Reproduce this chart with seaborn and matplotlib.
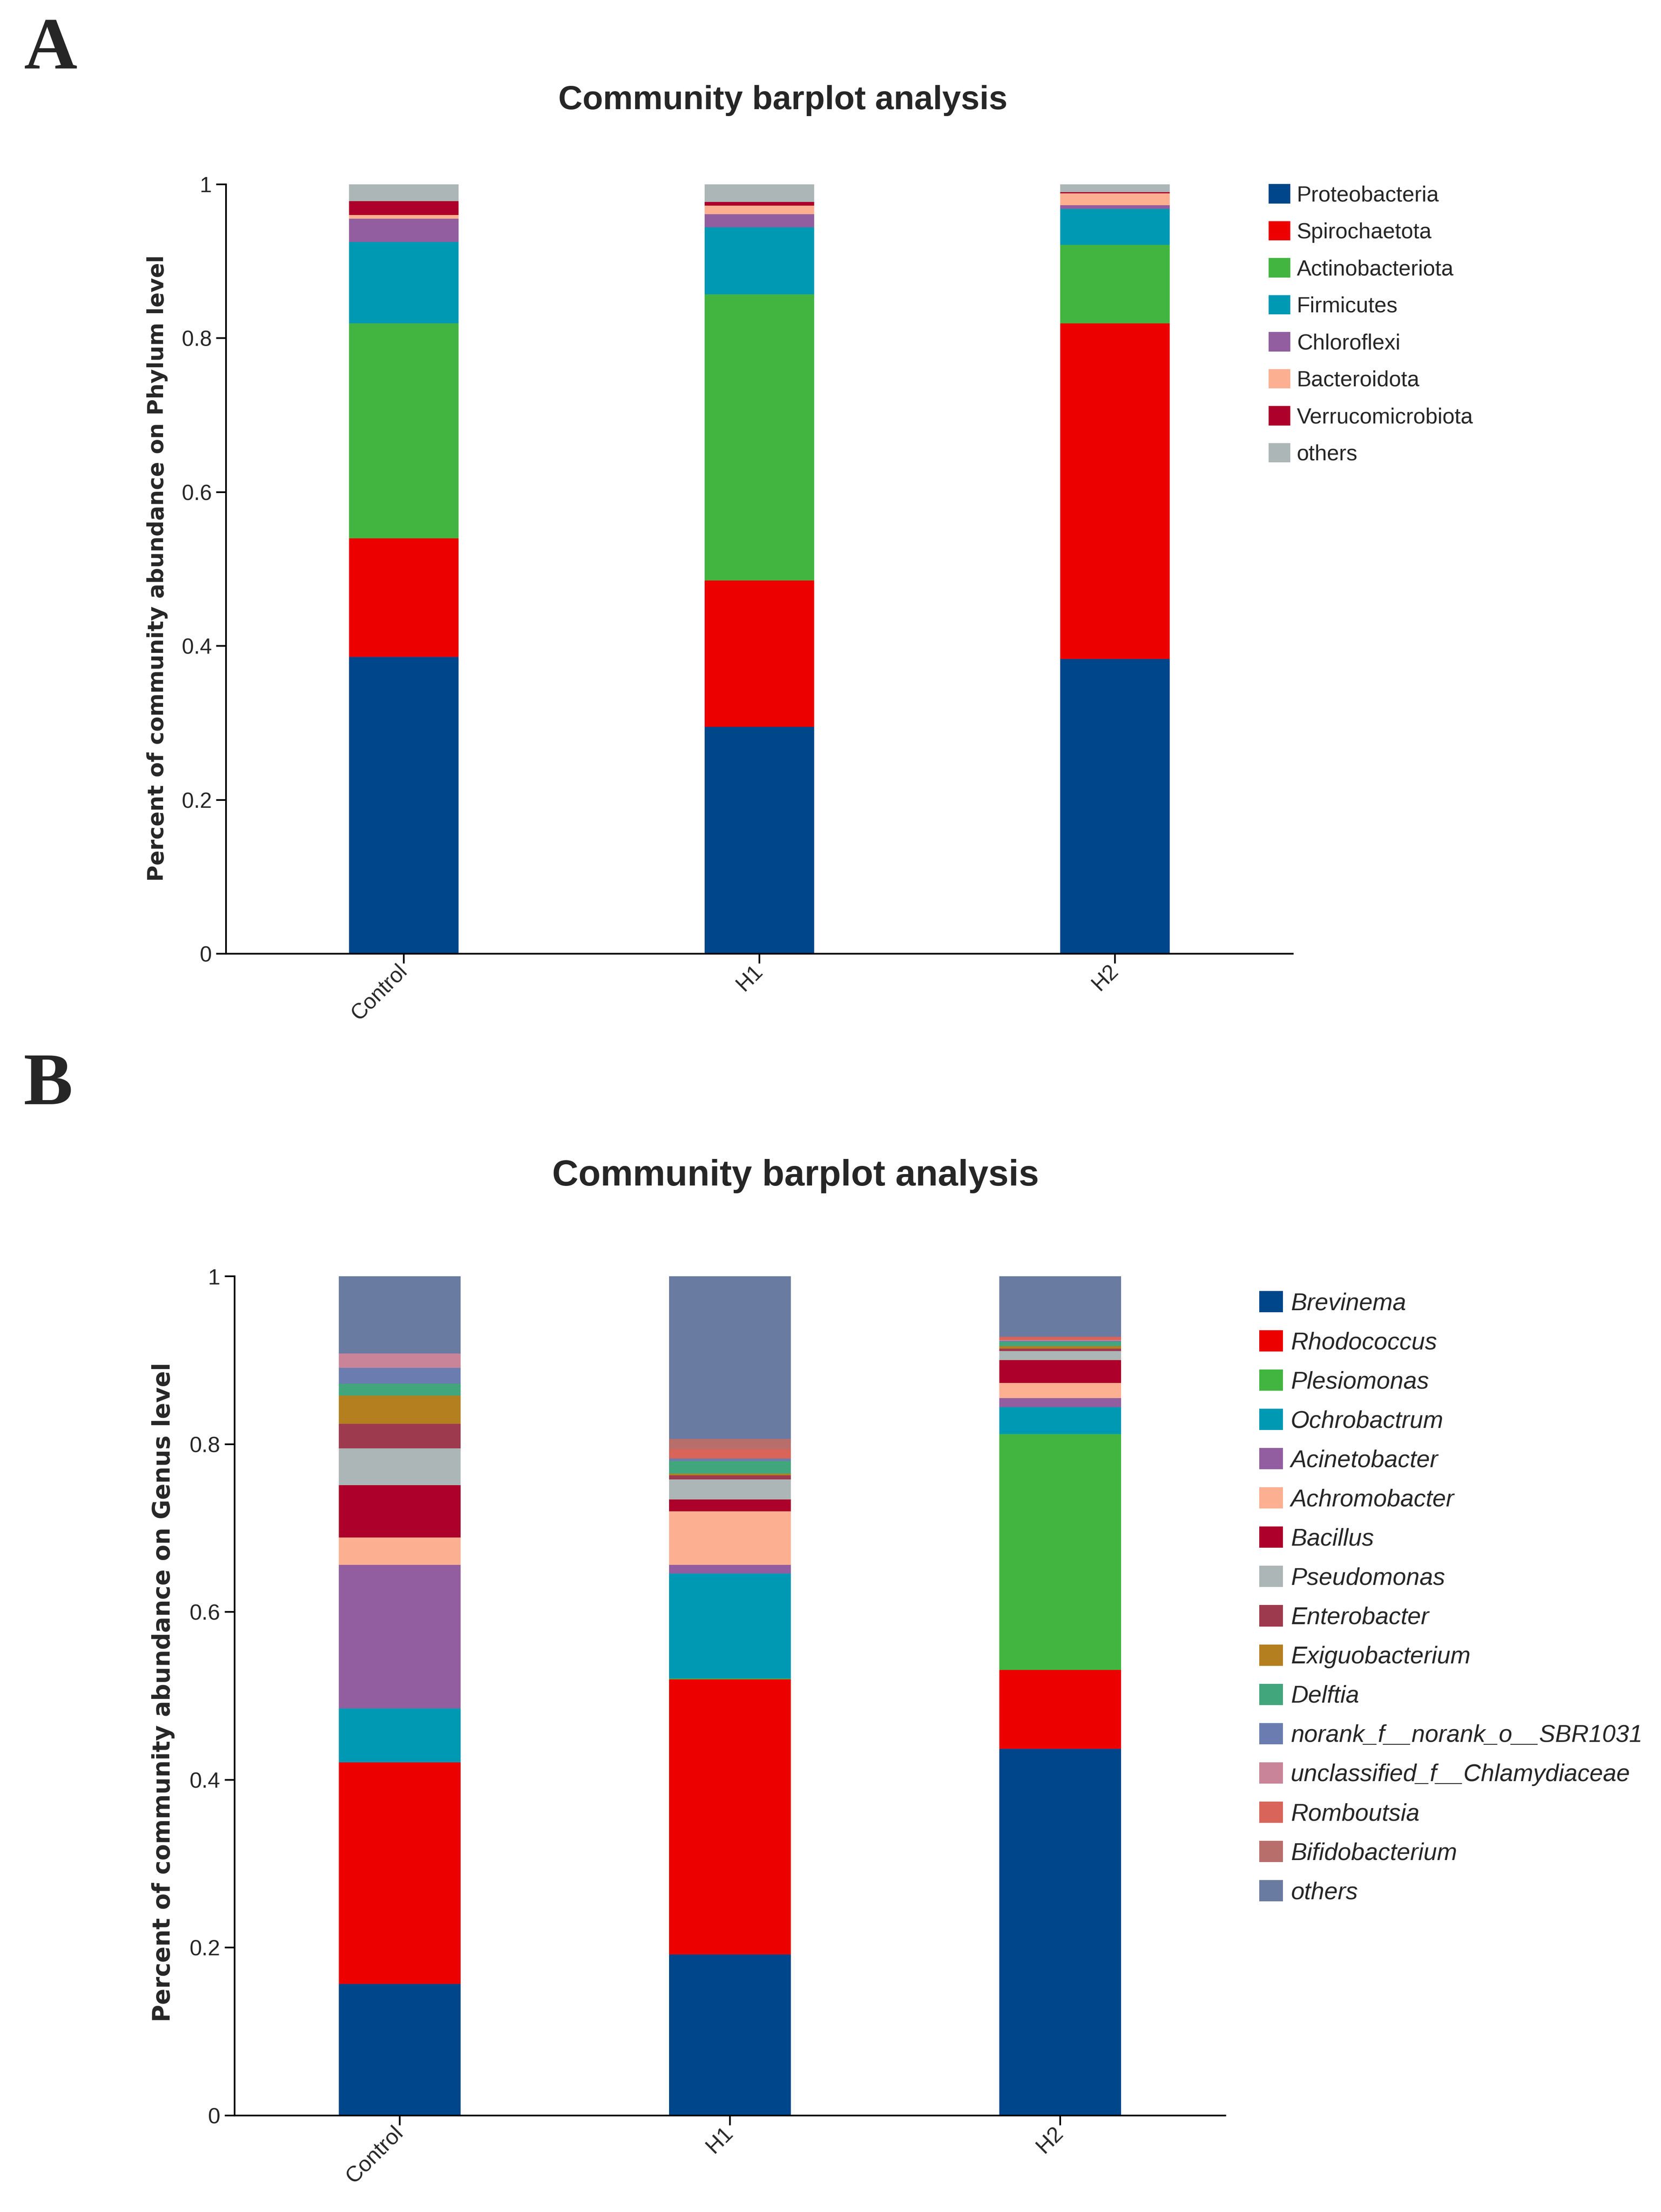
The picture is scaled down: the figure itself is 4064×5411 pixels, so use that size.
import numpy as np
import pandas as pd
import matplotlib.pyplot as plt
import seaborn as sns
from matplotlib.patches import Patch

# Samples on the x axis
samples = ['Control', 'H1', 'H2']

# Panel A - phylum level (bottom to top)
phylum_names = ['Proteobacteria', 'Spirochaetota', 'Actinobacteriota', 'Firmicutes',
                'Chloroflexi', 'Bacteroidota', 'Verrucomicrobiota', 'others']
phylum_colors = ['#00468B', '#ED0000', '#42B540', '#0099B4',
                 '#925E9F', '#FDAF91', '#AD002A', '#ADB6B6']
phylum_control = [0.386, 0.154, 0.279, 0.106, 0.030, 0.005, 0.018, 0.022]
phylum_h1 = [0.295, 0.190, 0.372, 0.087, 0.017, 0.011, 0.005, 0.023]
phylum_h2 = [0.383, 0.436, 0.102, 0.047, 0.005, 0.015, 0.002, 0.010]

# Panel B - genus level (bottom to top)
genus_names = ['Brevinema', 'Rhodococcus', 'Plesiomonas', 'Ochrobactrum', 'Acinetobacter',
               'Achromobacter', 'Bacillus', 'Pseudomonas', 'Enterobacter', 'Exiguobacterium',
               'Delftia', 'norank_f__norank_o__SBR1031', 'unclassified_f__Chlamydiaceae',
               'Romboutsia', 'Bifidobacterium', 'others']
genus_colors = ['#00468B', '#ED0000', '#42B540', '#0099B4', '#925E9F',
                '#FDAF91', '#AD002A', '#ADB6B6', '#9E3A4E', '#B47F1F',
                '#42A67C', '#6B7DB0', '#C98499', '#D8645A', '#B86E6A', '#6A7BA2']
genus_control = [0.157, 0.264, 0.0, 0.064, 0.171, 0.033, 0.062, 0.044,
                 0.029, 0.034, 0.014, 0.019, 0.017, 0.0, 0.0, 0.092]
genus_h1 = [0.192, 0.328, 0.001, 0.125, 0.010, 0.064, 0.014, 0.024,
            0.005, 0.002, 0.015, 0.003, 0.0, 0.011, 0.012, 0.194]
genus_h2 = [0.437, 0.094, 0.281, 0.032, 0.011, 0.018, 0.027, 0.011,
            0.003, 0.003, 0.005, 0.001, 0.001, 0.004, 0.0, 0.072]

sns.set_style('white')
plt.rcParams['font.family'] = ['Liberation Sans', 'DejaVu Sans']


def stacked_bars(ax, names, colors, rows, width):
    df = pd.DataFrame(rows, index=samples, columns=names)
    cum = df.cumsum(axis=1)
    # draw the tallest cumulative first, lower segments cover it
    for name, col in zip(names[::-1], colors[::-1]):
        sns.barplot(x=samples, y=cum[name].values, color=col, width=width,
                    saturation=1, errorbar=None, linewidth=0, ax=ax)
    ax.set_xlim(-0.5, 2.5)
    ax.set_ylim(0, 1)
    ax.set_yticks([0, 0.2, 0.4, 0.6, 0.8, 1])
    ax.set_yticklabels(['0', '0.2', '0.4', '0.6', '0.8', '1'])
    ax.set_xlabel('')
    ax.set_ylabel('')
    sns.despine(ax=ax)
    for s in ['left', 'bottom']:
        ax.spines[s].set_linewidth(3)
        ax.spines[s].set_color('black')


def style_ticks(ax, size):
    ax.tick_params(axis='both', direction='out', length=17, width=3,
                   color='black', labelsize=size, pad=8,
                   left=True, bottom=True)
    for lab in ax.get_xticklabels():
        lab.set_rotation(45)
        lab.set_ha('right')
        lab.set_va('center')
        lab.set_rotation_mode('anchor')


fig = plt.figure(figsize=(40.64, 54.11), dpi=100)

# Panel A
axA = fig.add_axes([0.1361, 0.5688, 0.6422, 0.3479])
stacked_bars(axA, phylum_names, phylum_colors,
             [phylum_control, phylum_h1, phylum_h2], 0.308)
style_ticks(axA, 38)
fig.text(0.4713, 0.9507, 'Community barplot analysis', ha='center', va='baseline',
         fontsize=59, fontweight='bold')
fig.text(0.0947, 0.7431, 'Percent of community abundance on Phylum level',
         rotation=90, ha='center', va='center', fontsize=39, fontweight='bold',
         family='DejaVu Sans')
fig.text(0.0143, 0.969, 'A', ha='left', va='baseline', fontsize=130,
         fontweight='bold', family='Liberation Serif')
handlesA = [Patch(facecolor=c, edgecolor='none') for c in phylum_colors]
fig.legend(handlesA, phylum_names, loc='upper left',
           bbox_to_anchor=(3104 / 4064, 1 - 450 / 5411), frameon=False,
           fontsize=38.5, handlelength=0.99, handleheight=0.99,
           handletextpad=0.3, labelspacing=0.70, borderpad=0, borderaxespad=0)

# Panel B
axB = fig.add_axes([0.1412, 0.0436, 0.5965, 0.3794])
stacked_bars(axB, genus_names, genus_colors,
             [genus_control, genus_h1, genus_h2], 0.369)
style_ticks(axB, 39)
fig.text(0.479, 0.464, 'Community barplot analysis', ha='center', va='baseline',
         fontsize=64, fontweight='bold')
fig.text(0.0982, 0.235, 'Percent of community abundance on Genus level',
         rotation=90, ha='center', va='center', fontsize=42, fontweight='bold',
         family='DejaVu Sans')
fig.text(0.0143, 0.5008, 'B', ha='left', va='baseline', fontsize=130,
         fontweight='bold', family='Liberation Serif')
handlesB = [Patch(facecolor=c, edgecolor='none') for c in genus_colors]
fig.legend(handlesB, genus_names, loc='upper left',
           bbox_to_anchor=(3081 / 4064, 1 - 3158 / 5411), frameon=False,
           handlelength=0.98, handleheight=0.98,
           handletextpad=0.32, labelspacing=0.64, borderpad=0, borderaxespad=0,
           prop={'style': 'italic', 'size': 42.5})

fig.savefig('out.png', dpi=100)
